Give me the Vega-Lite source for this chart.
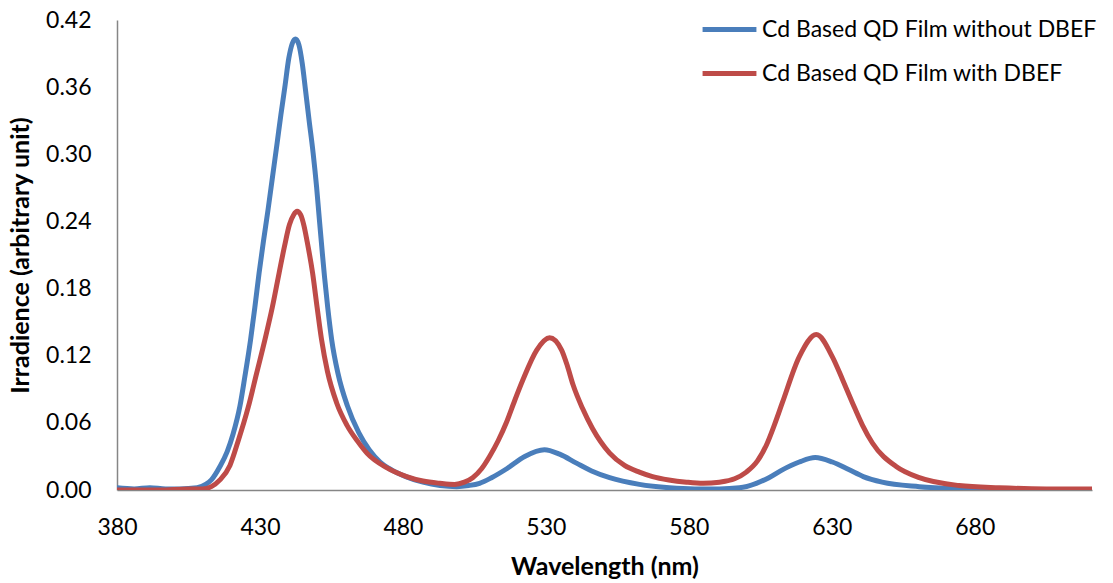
{
  "$schema": "https://vega.github.io/schema/vega-lite/v6.json",
  "width": 975,
  "height": 470,
  "autosize": "none",
  "padding": {"left": 117, "top": 20, "right": 21, "bottom": 93},
  "background": "white",
  "config": {"view": {"stroke": null}, "font": "Lato"},
  "datasets": {
    "spec": [
      {"wl": 380, "v": 0.002, "s": "Cd Based QD Film without DBEF"},
      {"wl": 386, "v": 0.001, "s": "Cd Based QD Film without DBEF"},
      {"wl": 391.5, "v": 0.002, "s": "Cd Based QD Film without DBEF"},
      {"wl": 397, "v": 0.001, "s": "Cd Based QD Film without DBEF"},
      {"wl": 402, "v": 0.001, "s": "Cd Based QD Film without DBEF"},
      {"wl": 408, "v": 0.002, "s": "Cd Based QD Film without DBEF"},
      {"wl": 411, "v": 0.005, "s": "Cd Based QD Film without DBEF"},
      {"wl": 413, "v": 0.009, "s": "Cd Based QD Film without DBEF"},
      {"wl": 416, "v": 0.021, "s": "Cd Based QD Film without DBEF"},
      {"wl": 418.5, "v": 0.034, "s": "Cd Based QD Film without DBEF"},
      {"wl": 420.6, "v": 0.05, "s": "Cd Based QD Film without DBEF"},
      {"wl": 423, "v": 0.075, "s": "Cd Based QD Film without DBEF"},
      {"wl": 424.7, "v": 0.101, "s": "Cd Based QD Film without DBEF"},
      {"wl": 426.7, "v": 0.134, "s": "Cd Based QD Film without DBEF"},
      {"wl": 428.2, "v": 0.163, "s": "Cd Based QD Film without DBEF"},
      {"wl": 429.7, "v": 0.194, "s": "Cd Based QD Film without DBEF"},
      {"wl": 431.2, "v": 0.222, "s": "Cd Based QD Film without DBEF"},
      {"wl": 432.8, "v": 0.25, "s": "Cd Based QD Film without DBEF"},
      {"wl": 434.4, "v": 0.28, "s": "Cd Based QD Film without DBEF"},
      {"wl": 436, "v": 0.31, "s": "Cd Based QD Film without DBEF"},
      {"wl": 437.3, "v": 0.335, "s": "Cd Based QD Film without DBEF"},
      {"wl": 438.7, "v": 0.36, "s": "Cd Based QD Film without DBEF"},
      {"wl": 440.1, "v": 0.386, "s": "Cd Based QD Film without DBEF"},
      {"wl": 441.3, "v": 0.399, "s": "Cd Based QD Film without DBEF"},
      {"wl": 442.4, "v": 0.403, "s": "Cd Based QD Film without DBEF"},
      {"wl": 443.6, "v": 0.398, "s": "Cd Based QD Film without DBEF"},
      {"wl": 444.8, "v": 0.381, "s": "Cd Based QD Film without DBEF"},
      {"wl": 445.9, "v": 0.358, "s": "Cd Based QD Film without DBEF"},
      {"wl": 447.2, "v": 0.33, "s": "Cd Based QD Film without DBEF"},
      {"wl": 448.6, "v": 0.301, "s": "Cd Based QD Film without DBEF"},
      {"wl": 449.8, "v": 0.271, "s": "Cd Based QD Film without DBEF"},
      {"wl": 450.8, "v": 0.241, "s": "Cd Based QD Film without DBEF"},
      {"wl": 451.8, "v": 0.212, "s": "Cd Based QD Film without DBEF"},
      {"wl": 452.6, "v": 0.19, "s": "Cd Based QD Film without DBEF"},
      {"wl": 453.7, "v": 0.163, "s": "Cd Based QD Film without DBEF"},
      {"wl": 455.1, "v": 0.134, "s": "Cd Based QD Film without DBEF"},
      {"wl": 457.3, "v": 0.104, "s": "Cd Based QD Film without DBEF"},
      {"wl": 460.6, "v": 0.075, "s": "Cd Based QD Film without DBEF"},
      {"wl": 464.6, "v": 0.051, "s": "Cd Based QD Film without DBEF"},
      {"wl": 468.2, "v": 0.036, "s": "Cd Based QD Film without DBEF"},
      {"wl": 472, "v": 0.025, "s": "Cd Based QD Film without DBEF"},
      {"wl": 476, "v": 0.018, "s": "Cd Based QD Film without DBEF"},
      {"wl": 481, "v": 0.012, "s": "Cd Based QD Film without DBEF"},
      {"wl": 487, "v": 0.007, "s": "Cd Based QD Film without DBEF"},
      {"wl": 493, "v": 0.004, "s": "Cd Based QD Film without DBEF"},
      {"wl": 498.8, "v": 0.003, "s": "Cd Based QD Film without DBEF"},
      {"wl": 503, "v": 0.004, "s": "Cd Based QD Film without DBEF"},
      {"wl": 506.8, "v": 0.006, "s": "Cd Based QD Film without DBEF"},
      {"wl": 511, "v": 0.011, "s": "Cd Based QD Film without DBEF"},
      {"wl": 516.3, "v": 0.019, "s": "Cd Based QD Film without DBEF"},
      {"wl": 522.6, "v": 0.03, "s": "Cd Based QD Film without DBEF"},
      {"wl": 529.5, "v": 0.036, "s": "Cd Based QD Film without DBEF"},
      {"wl": 534.8, "v": 0.032, "s": "Cd Based QD Film without DBEF"},
      {"wl": 540.7, "v": 0.024, "s": "Cd Based QD Film without DBEF"},
      {"wl": 546, "v": 0.017, "s": "Cd Based QD Film without DBEF"},
      {"wl": 552.3, "v": 0.011, "s": "Cd Based QD Film without DBEF"},
      {"wl": 562.7, "v": 0.005, "s": "Cd Based QD Film without DBEF"},
      {"wl": 573.2, "v": 0.002, "s": "Cd Based QD Film without DBEF"},
      {"wl": 582, "v": 0.001, "s": "Cd Based QD Film without DBEF"},
      {"wl": 590.7, "v": 0.001, "s": "Cd Based QD Film without DBEF"},
      {"wl": 597.7, "v": 0.002, "s": "Cd Based QD Film without DBEF"},
      {"wl": 603.6, "v": 0.006, "s": "Cd Based QD Film without DBEF"},
      {"wl": 608, "v": 0.011, "s": "Cd Based QD Film without DBEF"},
      {"wl": 612.7, "v": 0.018, "s": "Cd Based QD Film without DBEF"},
      {"wl": 618.6, "v": 0.025, "s": "Cd Based QD Film without DBEF"},
      {"wl": 624.2, "v": 0.029, "s": "Cd Based QD Film without DBEF"},
      {"wl": 630.2, "v": 0.025, "s": "Cd Based QD Film without DBEF"},
      {"wl": 636.1, "v": 0.018, "s": "Cd Based QD Film without DBEF"},
      {"wl": 641, "v": 0.012, "s": "Cd Based QD Film without DBEF"},
      {"wl": 647.6, "v": 0.007, "s": "Cd Based QD Film without DBEF"},
      {"wl": 660.6, "v": 0.003, "s": "Cd Based QD Film without DBEF"},
      {"wl": 674.5, "v": 0.001, "s": "Cd Based QD Film without DBEF"},
      {"wl": 690, "v": 0.0, "s": "Cd Based QD Film without DBEF"},
      {"wl": 705, "v": 0.0, "s": "Cd Based QD Film without DBEF"},
      {"wl": 720.7, "v": 0.0, "s": "Cd Based QD Film without DBEF"},
      {"wl": 380, "v": 0.0, "s": "Cd Based QD Film with DBEF"},
      {"wl": 395, "v": 0.0, "s": "Cd Based QD Film with DBEF"},
      {"wl": 405, "v": 0.001, "s": "Cd Based QD Film with DBEF"},
      {"wl": 410, "v": 0.001, "s": "Cd Based QD Film with DBEF"},
      {"wl": 413, "v": 0.003, "s": "Cd Based QD Film with DBEF"},
      {"wl": 416, "v": 0.009, "s": "Cd Based QD Film with DBEF"},
      {"wl": 419.5, "v": 0.022, "s": "Cd Based QD Film with DBEF"},
      {"wl": 422.4, "v": 0.044, "s": "Cd Based QD Film with DBEF"},
      {"wl": 425.9, "v": 0.074, "s": "Cd Based QD Film with DBEF"},
      {"wl": 428.8, "v": 0.104, "s": "Cd Based QD Film with DBEF"},
      {"wl": 431.7, "v": 0.134, "s": "Cd Based QD Film with DBEF"},
      {"wl": 434.3, "v": 0.163, "s": "Cd Based QD Film with DBEF"},
      {"wl": 436.7, "v": 0.194, "s": "Cd Based QD Film with DBEF"},
      {"wl": 438.6, "v": 0.218, "s": "Cd Based QD Film with DBEF"},
      {"wl": 440.3, "v": 0.237, "s": "Cd Based QD Film with DBEF"},
      {"wl": 441.8, "v": 0.246, "s": "Cd Based QD Film with DBEF"},
      {"wl": 443, "v": 0.249, "s": "Cd Based QD Film with DBEF"},
      {"wl": 444.2, "v": 0.246, "s": "Cd Based QD Film with DBEF"},
      {"wl": 445.4, "v": 0.236, "s": "Cd Based QD Film with DBEF"},
      {"wl": 446.5, "v": 0.222, "s": "Cd Based QD Film with DBEF"},
      {"wl": 448.4, "v": 0.194, "s": "Cd Based QD Film with DBEF"},
      {"wl": 450, "v": 0.163, "s": "Cd Based QD Film with DBEF"},
      {"wl": 451.5, "v": 0.135, "s": "Cd Based QD Film with DBEF"},
      {"wl": 453.6, "v": 0.106, "s": "Cd Based QD Film with DBEF"},
      {"wl": 456.8, "v": 0.078, "s": "Cd Based QD Film with DBEF"},
      {"wl": 460.4, "v": 0.058, "s": "Cd Based QD Film with DBEF"},
      {"wl": 464.3, "v": 0.043, "s": "Cd Based QD Film with DBEF"},
      {"wl": 467.4, "v": 0.033, "s": "Cd Based QD Film with DBEF"},
      {"wl": 474.3, "v": 0.02, "s": "Cd Based QD Film with DBEF"},
      {"wl": 481.3, "v": 0.012, "s": "Cd Based QD Film with DBEF"},
      {"wl": 487, "v": 0.008, "s": "Cd Based QD Film with DBEF"},
      {"wl": 492.9, "v": 0.006, "s": "Cd Based QD Film with DBEF"},
      {"wl": 498.1, "v": 0.005, "s": "Cd Based QD Film with DBEF"},
      {"wl": 501.5, "v": 0.007, "s": "Cd Based QD Film with DBEF"},
      {"wl": 504.4, "v": 0.011, "s": "Cd Based QD Film with DBEF"},
      {"wl": 507.5, "v": 0.019, "s": "Cd Based QD Film with DBEF"},
      {"wl": 510.3, "v": 0.03, "s": "Cd Based QD Film with DBEF"},
      {"wl": 513.3, "v": 0.044, "s": "Cd Based QD Film with DBEF"},
      {"wl": 516.3, "v": 0.061, "s": "Cd Based QD Film with DBEF"},
      {"wl": 519.1, "v": 0.08, "s": "Cd Based QD Film with DBEF"},
      {"wl": 521.9, "v": 0.098, "s": "Cd Based QD Film with DBEF"},
      {"wl": 526.8, "v": 0.125, "s": "Cd Based QD Film with DBEF"},
      {"wl": 531.3, "v": 0.136, "s": "Cd Based QD Film with DBEF"},
      {"wl": 535.5, "v": 0.125, "s": "Cd Based QD Film with DBEF"},
      {"wl": 537.5, "v": 0.111, "s": "Cd Based QD Film with DBEF"},
      {"wl": 539.5, "v": 0.094, "s": "Cd Based QD Film with DBEF"},
      {"wl": 542.8, "v": 0.073, "s": "Cd Based QD Film with DBEF"},
      {"wl": 546.3, "v": 0.055, "s": "Cd Based QD Film with DBEF"},
      {"wl": 552.3, "v": 0.033, "s": "Cd Based QD Film with DBEF"},
      {"wl": 557.5, "v": 0.022, "s": "Cd Based QD Film with DBEF"},
      {"wl": 562.7, "v": 0.016, "s": "Cd Based QD Film with DBEF"},
      {"wl": 567.3, "v": 0.012, "s": "Cd Based QD Film with DBEF"},
      {"wl": 573, "v": 0.009, "s": "Cd Based QD Film with DBEF"},
      {"wl": 579.2, "v": 0.007, "s": "Cd Based QD Film with DBEF"},
      {"wl": 585, "v": 0.006, "s": "Cd Based QD Film with DBEF"},
      {"wl": 590.7, "v": 0.007, "s": "Cd Based QD Film with DBEF"},
      {"wl": 596, "v": 0.01, "s": "Cd Based QD Film with DBEF"},
      {"wl": 600.1, "v": 0.016, "s": "Cd Based QD Film with DBEF"},
      {"wl": 604, "v": 0.026, "s": "Cd Based QD Film with DBEF"},
      {"wl": 607.1, "v": 0.04, "s": "Cd Based QD Film with DBEF"},
      {"wl": 609.9, "v": 0.058, "s": "Cd Based QD Film with DBEF"},
      {"wl": 612.7, "v": 0.078, "s": "Cd Based QD Film with DBEF"},
      {"wl": 618.6, "v": 0.119, "s": "Cd Based QD Film with DBEF"},
      {"wl": 624.6, "v": 0.139, "s": "Cd Based QD Film with DBEF"},
      {"wl": 630.2, "v": 0.119, "s": "Cd Based QD Film with DBEF"},
      {"wl": 633.7, "v": 0.099, "s": "Cd Based QD Film with DBEF"},
      {"wl": 637.2, "v": 0.078, "s": "Cd Based QD Film with DBEF"},
      {"wl": 640.7, "v": 0.058, "s": "Cd Based QD Film with DBEF"},
      {"wl": 644.2, "v": 0.042, "s": "Cd Based QD Film with DBEF"},
      {"wl": 652.5, "v": 0.021, "s": "Cd Based QD Film with DBEF"},
      {"wl": 660.6, "v": 0.011, "s": "Cd Based QD Film with DBEF"},
      {"wl": 674.5, "v": 0.004, "s": "Cd Based QD Film with DBEF"},
      {"wl": 688.5, "v": 0.002, "s": "Cd Based QD Film with DBEF"},
      {"wl": 705, "v": 0.001, "s": "Cd Based QD Film with DBEF"},
      {"wl": 720.7, "v": 0.001, "s": "Cd Based QD Film with DBEF"}
    ]
  },
  "data": {"name": "spec"},
  "mark": {"type": "line", "strokeWidth": 5, "interpolate": "monotone", "strokeCap": "round", "clip": true},
  "encoding": {
    "x": {
      "field": "wl",
      "type": "quantitative",
      "scale": {"domain": [380, 721], "nice": false, "zero": false},
      "axis": {
        "title": "Wavelength (nm)",
        "values": [380, 430, 480, 530, 580, 630, 680],
        "format": "d",
        "grid": false,
        "ticks": false,
        "labelFlush": false,
        "domainColor": "#868686",
        "domainWidth": 1.5,
        "labelFontSize": 23,
        "labelColor": "#000000",
        "labelPadding": 26,
        "titleFontSize": 25,
        "titleFontWeight": "bold",
        "titleColor": "#000000",
        "titlePadding": 15
      }
    },
    "y": {
      "field": "v",
      "type": "quantitative",
      "scale": {"domain": [0, 0.42], "nice": false},
      "axis": {
        "title": "Irradience (arbitrary unit)",
        "values": [0, 0.06, 0.12, 0.18, 0.24, 0.3, 0.36, 0.42],
        "format": ".2f",
        "grid": false,
        "ticks": false,
        "labelFlush": false,
        "domainColor": "#868686",
        "domainWidth": 1.5,
        "labelFontSize": 23,
        "labelColor": "#000000",
        "labelPadding": 26,
        "titleFontSize": 25,
        "titleFontWeight": "bold",
        "titleColor": "#000000",
        "titlePadding": 12
      }
    },
    "color": {
      "field": "s",
      "type": "nominal",
      "scale": {
        "domain": ["Cd Based QD Film without DBEF", "Cd Based QD Film with DBEF"],
        "range": ["#4A7EBB", "#BE4B48"]
      },
      "legend": {
        "title": null,
        "orient": "none",
        "legendX": 583,
        "legendY": -20,
        "padding": 0,
        "symbolType": "stroke",
        "symbolSize": 2900,
        "symbolStrokeWidth": 5,
        "labelFontSize": 23,
        "labelColor": "#000000",
        "labelOffset": 3,
        "rowPadding": 2,
        "labelLimit": 500
      }
    }
  }
}
